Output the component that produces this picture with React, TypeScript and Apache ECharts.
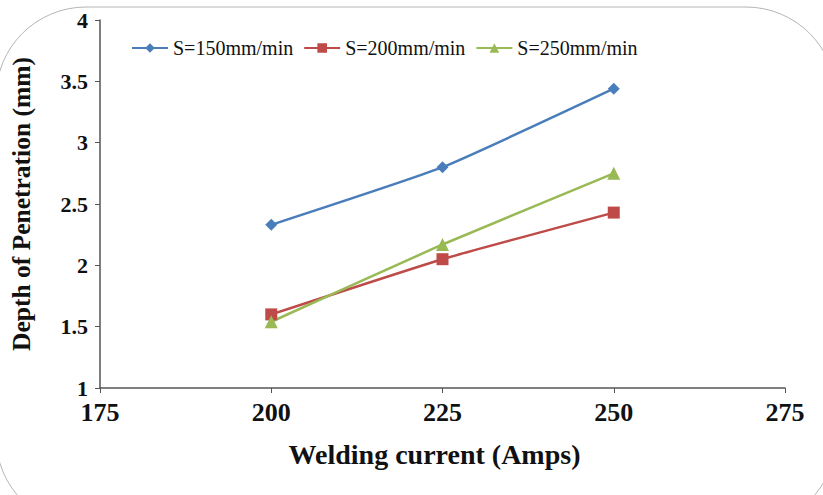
import React, { useEffect, useRef } from "react";
import * as echarts from "echarts";

const currents = [200, 225, 250];
const s150 = [2.33, 2.8, 3.44];
const s200 = [1.6, 2.05, 2.43];
const s250 = [1.54, 2.17, 2.75];
const seriesNames = ["S=150mm/min", "S=200mm/min", "S=250mm/min"];

export default function App() {
  const ref = useRef<HTMLDivElement>(null);
  useEffect(() => {
    const chart = echarts.init(ref.current!, null, { renderer: "svg" });
    const font = "Liberation Serif";
    const mk = (vals: number[]) => currents.map((c, i) => [c, vals[i]]);
    chart.setOption({
      animation: false,
      backgroundColor: "#ffffff",
      textStyle: { fontFamily: font },
      graphic: [
        {
          type: "rect",
          shape: { x: -4, y: 7, width: 840, height: 520, r: 90 },
          style: { fill: "none", stroke: "#b5b5b5", lineWidth: 1 },
          silent: true,
          z: -1,
        },
      ],
      legend: {
        top: 33,
        left: 126,
        itemGap: 10,
        itemWidth: 36,
        itemHeight: 12,
        textStyle: { fontFamily: font, fontSize: 20, color: "#111" },
        data: seriesNames,
      },
      grid: { left: 97, top: 20, right: 38, bottom: 107, containLabel: false },
      xAxis: {
        type: "value",
        min: 175,
        max: 275,
        interval: 25,
        name: "Welding current (Amps)",
        nameLocation: "middle",
        nameGap: 52,
        nameTextStyle: {
          fontFamily: font,
          fontSize: 28,
          fontWeight: "bold",
          color: "#111",
          padding: [0, 16, 0, 0],
        },
        axisLine: { lineStyle: { color: "#555", width: 1.5 } },
        axisTick: { show: true, length: 5, lineStyle: { color: "#555" } },
        axisLabel: {
          fontFamily: font,
          fontSize: 26,
          lineHeight: 22,
          fontWeight: "bold",
          color: "#111",
          margin: 13,
        },
        splitLine: { show: false },
      },
      yAxis: {
        type: "value",
        min: 1,
        max: 4,
        interval: 0.5,
        name: "Depth of Penetration (mm)",
        nameLocation: "middle",
        nameGap: 66,
        nameTextStyle: { fontFamily: font, fontSize: 25.5, fontWeight: "bold", color: "#111" },
        axisLine: { show: true, lineStyle: { color: "#555", width: 1.5 } },
        axisTick: { show: true, length: 5, lineStyle: { color: "#555" } },
        axisLabel: {
          fontFamily: font,
          fontSize: 22,
          lineHeight: 17,
          fontWeight: "bold",
          color: "#111",
          margin: 12,
        },
        splitLine: { show: false },
      },
      series: [
        {
          name: seriesNames[0],
          type: "line",
          data: mk(s150),
          color: "#4a7ebb",
          lineStyle: { width: 2.5 },
          symbol: "diamond",
          symbolSize: 12,
          smooth: 0.15,
        },
        {
          name: seriesNames[1],
          type: "line",
          data: mk(s200),
          color: "#be4b48",
          lineStyle: { width: 2.5 },
          symbol: "rect",
          symbolSize: 12,
          smooth: 0.15,
        },
        {
          name: seriesNames[2],
          type: "line",
          data: mk(s250),
          color: "#98b954",
          lineStyle: { width: 2.5 },
          symbol: "triangle",
          symbolSize: 13,
          smooth: 0.15,
        },
      ],
    });
    return () => chart.dispose();
  }, []);
  return <div ref={ref} style={{ width: 823, height: 495, position: "absolute", left: 0, top: 0 }} />;
}
